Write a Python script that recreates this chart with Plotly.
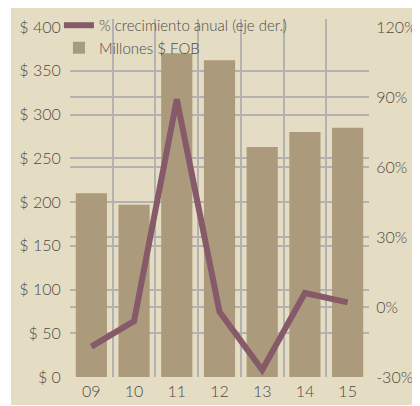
import plotly.graph_objects as go

# data
years = ["09", "10", "11", "12", "13", "14", "15"]
millones_fob = [210, 197, 370, 362, 263, 280, 285]
crecimiento = [-17, -6, 89, -2, -27, 6, 2]

left_ticks = [0, 50, 100, 150, 200, 250, 300, 350, 400]
left_labels = ["$ " + str(v) for v in left_ticks]
right_ticks = [-30, 0, 30, 60, 90, 120]
right_labels = [str(v) + "%" for v in right_ticks]

BG = "#E5DDC3"
BAR = "#AB9A7C"
LINE = "#865A69"
GRID = "#B4B2B0"
TXT = "#4E4A46"
FONT = "Lato"

xs = list(range(len(years)))

# plot box 358 px tall, $0..$400 covers the lower 350 px
pad = 358 / 350
left_range = [0, 400 * pad]
right_range = [-30, -30 + 150 * pad]

fig = go.Figure()
fig.add_trace(go.Bar(x=xs, y=millones_fob, name="Millones $ FOB",
                     marker_color=BAR, marker_line_width=0, legendrank=2))
fig.add_trace(go.Scatter(x=xs, y=crecimiento, yaxis="y2", mode="lines",
                         name="% crecimiento anual (eje der.)",
                         line=dict(color=LINE, width=6), legendrank=1))

tickfont = dict(family=FONT, size=16, color=TXT, weight=300)

# grid only on inner values: minor grid (inside) next to zero-length major ticks (outside)
fig.update_layout(
    width=412, height=397,
    margin=dict(l=62, r=51, t=11, b=28, autoexpand=False),
    paper_bgcolor=BG, plot_bgcolor=BG,
    bargap=0.27,
    showlegend=True,
    legend=dict(x=-0.037, y=1.028, xanchor="left", yanchor="top",
                bgcolor="rgba(0,0,0,0)", tracegroupgap=0,
                font=dict(family=FONT, size=15, color=TXT, weight=300)),
    xaxis=dict(range=[-0.5, 6.5], tickvals=xs, ticktext=years,
               showgrid=False, zeroline=False, showline=False,
               ticks="outside", ticklen=0, tickfont=tickfont,
               minor=dict(tickvals=[i + 0.5 for i in xs[:-1]], showgrid=True,
                          gridcolor=GRID, gridwidth=1.5, ticks="inside", ticklen=0)),
    yaxis=dict(range=left_range, tickvals=left_ticks, ticktext=left_labels,
               showgrid=False, zeroline=False, ticks="outside", ticklen=0,
               tickfont=tickfont, ticklabelstandoff=5,
               minor=dict(tickvals=left_ticks[1:-1], showgrid=True,
                          gridcolor=GRID, gridwidth=1.5, ticks="inside", ticklen=0)),
    yaxis2=dict(range=right_range, tickvals=right_ticks, ticktext=right_labels,
                overlaying="y", side="right", showgrid=False, zeroline=False,
                ticks="outside", ticklen=0, tickfont=tickfont, ticklabelstandoff=3,
                minor=dict(tickvals=[0, 30, 60, 90], showgrid=True,
                           gridcolor=GRID, gridwidth=1.5, ticks="inside", ticklen=0)),
    shapes=[dict(type="rect", xref="paper", yref="paper",
                 x0=-62 / 299, x1=-59 / 299, y0=-0.2, y1=1.2,
                 fillcolor="white", line_width=0, layer="below")],
)

fig.write_html("out.html")
